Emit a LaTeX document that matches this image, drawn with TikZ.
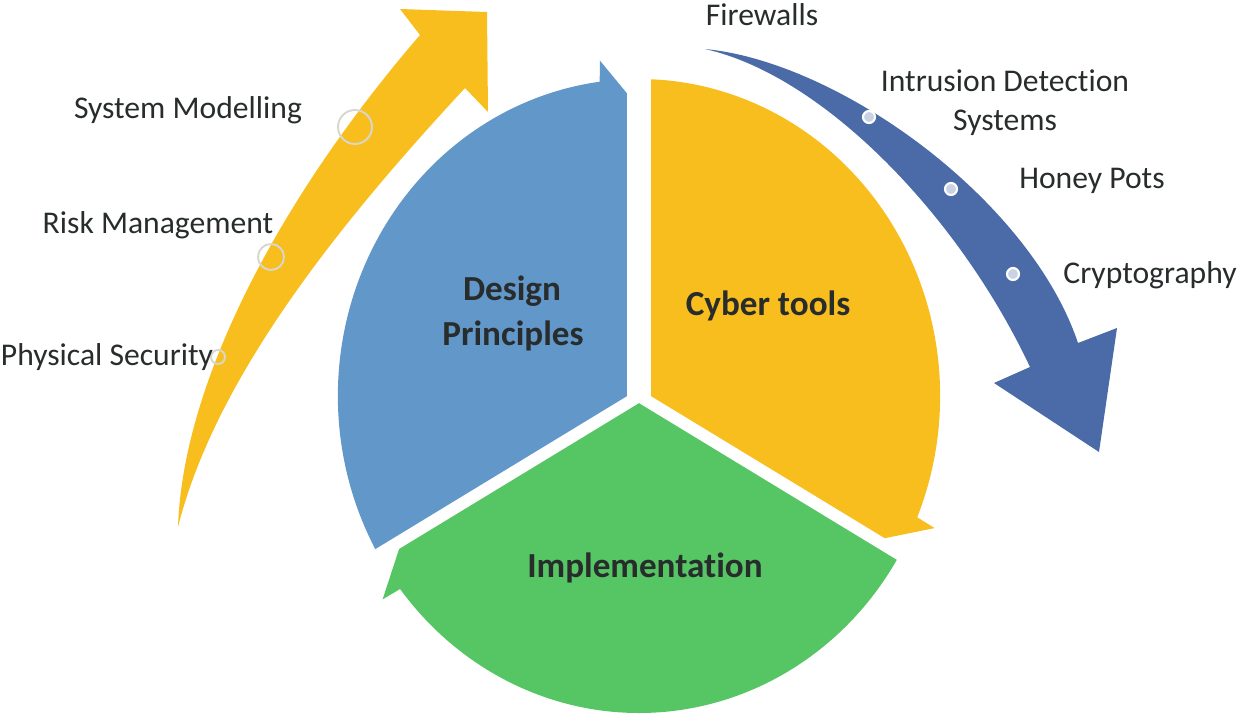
\documentclass[tikz,border=0pt]{standalone}
\usepackage{fontspec}
\setmainfont{Carlito}[Ligatures=CommonOff]
\definecolor{SkyBlue}{RGB}{98,151,201}
\definecolor{Amber}{RGB}{248,190,30}
\definecolor{Leaf}{RGB}{86,198,100}
\definecolor{Navy}{RGB}{74,107,168}
\definecolor{Ink}{RGB}{40,44,44}
\definecolor{RingGray}{RGB}{215,215,205}
\usetikzlibrary{calc}

\begin{document}
\begin{tikzpicture}[
    x=0.02cm, y=0.02cm,
    every node/.style={inner sep=0pt, text=Ink},
    sidelabel/.style={anchor=base, font=\fontsize{18}{22}\selectfont},
    mainlabel/.style={anchor=base, font=\fontsize{20}{24}\selectfont\bfseries},
    wedgegap/.style={draw=white, line cap=butt},
    ring/.style={draw=RingGray, line width=1.1pt},
    dot/.style={draw=white, fill=Navy!30!white, line width=1.2pt}
]
\useasboundingbox (0,0) rectangle (1240,-717);
% wheel
\begin{scope}[shift={(639,-396)}, xscale=0.95]
\fill[SkyBlue] (0,0) -- (210:317) arc[start angle=210, end angle=97.5, radius=317] -- (97:338) -- (90:288) -- cycle;
\fill[Amber] (0,0) -- (90:317) arc[start angle=90, end angle=-22.5, radius=317] -- (-23:338) -- (-30:288) -- cycle;
\fill[Leaf] (0,0) -- (-30:317) arc[start angle=-30, end angle=-142.5, radius=317] -- (-143:338) -- (-150:288) -- cycle;
\draw[wedgegap, line width=0.47cm] (0,0) -- (90:370);
\draw[wedgegap, line width=0.24cm] (0,0) -- (-30:370);
\draw[wedgegap, line width=0.24cm] (0,0) -- (-150:370);
\end{scope}
% side arrows
\fill[Amber] (178,-527) .. controls (183,-380) and (282,-195) .. (420,-35) -- (400,-9) -- (487,-12) -- (488,-112) -- (465,-88) .. controls (335,-228) and (215,-380) .. cycle;
\draw[ring] (355,-127) circle[radius=17];
\draw[ring] (271,-257) circle[radius=13];
\draw[ring] (218,-357) circle[radius=7];
\fill[Navy] (705,-49) .. controls (840,-62) and (1030,-200) .. (1078,-343) -- (1117,-328) -- (1099,-452) -- (994,-383) -- (1030,-367) .. controls (960,-218) and (825,-76) .. cycle;
\draw[dot] (869,-117) circle[radius=6];
\draw[dot] (951,-189) circle[radius=6];
\draw[dot] (1013,-274) circle[radius=6];
% labels
\node[mainlabel] (design) at (512,-300) {Design};
\node[mainlabel] (principles) at (513,-345) {Principles};
\node[mainlabel] (cyber) at (768,-315) {Cyber tools};
\node[mainlabel] (impl) at (645,-577) {Implementation};
\node[sidelabel] (sysmod) at (188,-118) {System Modelling};
\node[sidelabel] (risk) at (158,-233) {Risk Management};
\node[sidelabel] (physec) at (107,-365) {Physical Security};
\node[sidelabel] (firewalls) at (762,-25) {Firewalls};
\node[sidelabel] (ids) at (1005,-91) {Intrusion Detection};
\node[sidelabel] (idsys) at (1005,-130) {Systems};
\node[sidelabel] (honey) at (1092,-188) {Honey Pots};
\node[sidelabel] (crypto) at (1150,-283) {Cryptography};
\end{tikzpicture}
\end{document}
